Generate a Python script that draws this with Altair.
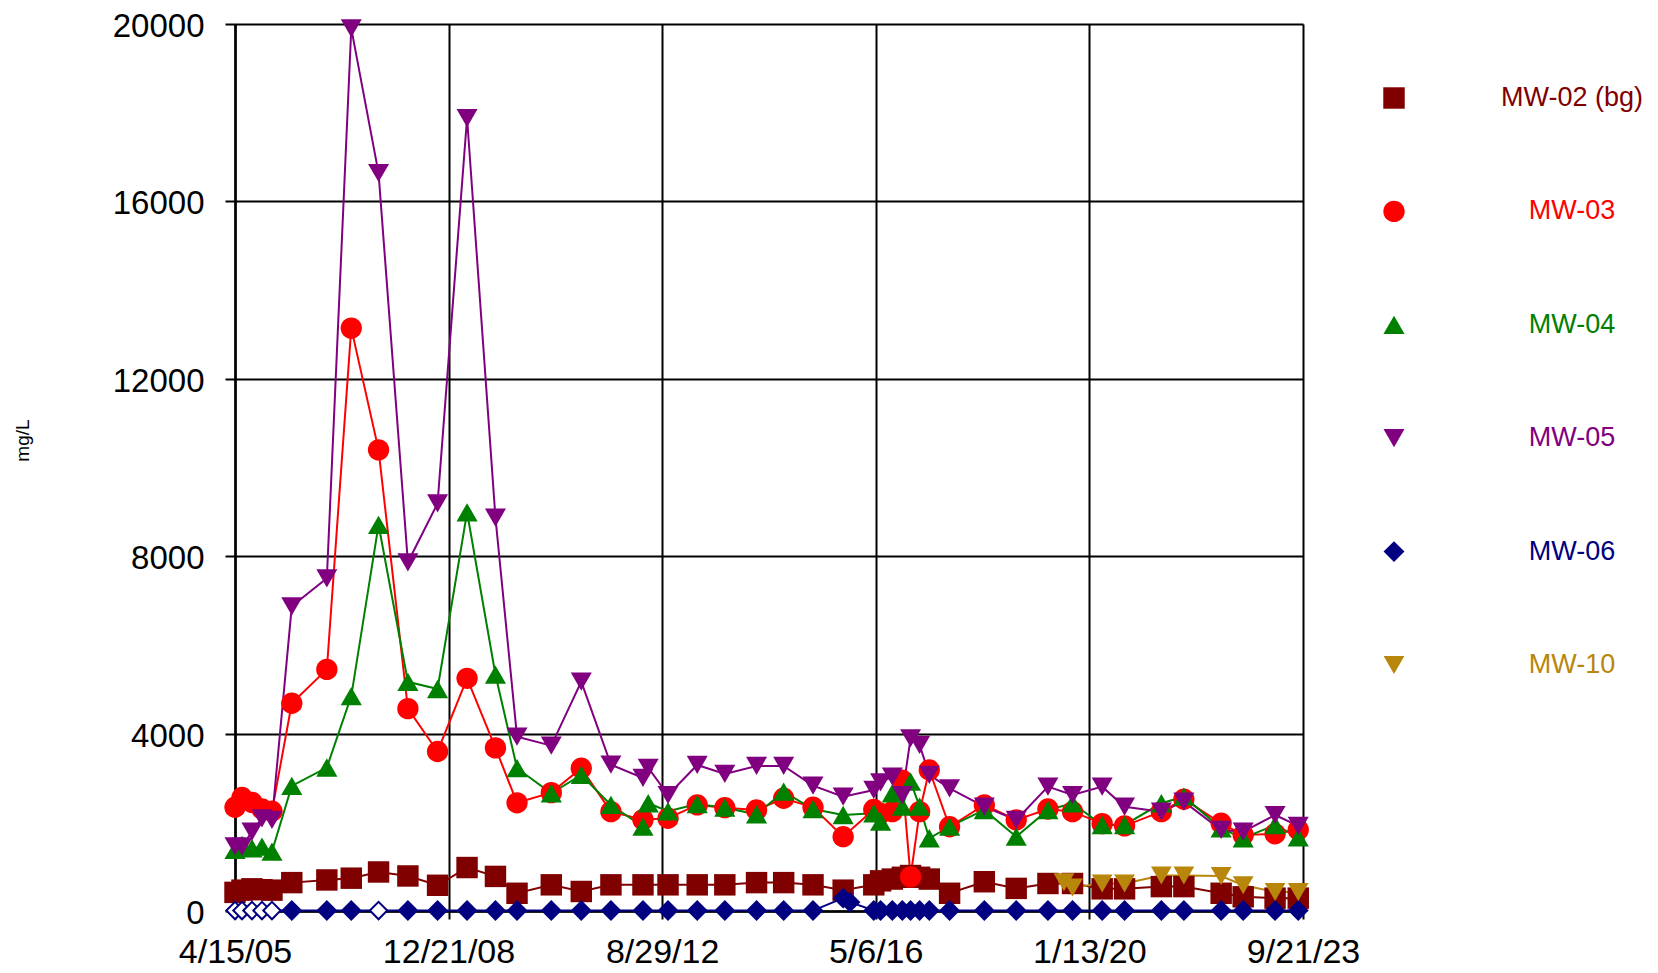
import altair as alt
import pandas as pd

# ---------------- data ----------------
DATES = ["2005-04-15", "2005-05-29", "2005-07-31", "2005-10-02", "2005-12-04",
         "2006-04-08", "2006-11-15", "2007-04-18", "2007-10-07", "2008-04-09",
         "2008-10-13", "2009-04-17", "2009-10-13", "2010-02-26", "2010-09-30",
         "2011-04-07", "2011-10-11", "2012-04-30", "2012-10-05", "2013-04-07",
         "2013-09-28", "2014-04-16", "2014-10-04", "2015-04-07", "2015-10-14",
         "2016-04-24", "2016-06-06", "2016-08-19", "2016-10-21", "2016-12-12",
         "2017-02-07", "2017-04-09", "2017-08-15", "2018-03-22", "2018-10-09",
         "2019-04-27", "2019-09-29", "2020-04-03", "2020-08-22", "2021-04-11",
         "2021-08-31", "2022-04-23", "2022-09-09", "2023-03-29", "2023-08-22"]

MW02 = [420, 470, 500, 480, 470, 640, 700, 740, 880, 790, 580, 980, 780, 400, 590,
        440, 590, 590, 590, 590, 590, 640, 640, 590, 470, 590, 680, 720, 760, 800,
        760, 720, 400, 660, 510, 620, 620, 500, 500, 550, 550, 400, 320, 290, 290]
MW03 = [2340, 2560, 2450, 2300, 2250, 4684, 5448, 13143, 10398, 4563, 3597, 5247, 3678, 2440, 2669,
        3219, 2240, 2060, 2091, 2391, 2330, 2278, 2542, 2339, 1676, 2290, 2200, 2240, 2950, 770,
        2240, 3180, 1900, 2390, 2053, 2300, 2240, 1970, 1920, 2240, 2520, 1978, 1714, 1740, 1830]
MW04 = [1380, 1490, 1414, 1450, 1340, 2820, 3235, 4845, 8708, 5167, 5006, 8990, 5328, 3220, 2655,
        3068, 2391, 1902, 2250, 2410, 2330, 2180, 2690, 2300, 2165, 2204, 2014, 2655, 2352, 2917,
        2352, 1640, 1902, 2278, 1676, 2278, 2429, 1940, 1940, 2429, 2578, 1865, 1640, 1940, 1660]
MW04_EXTRA_DATES = ["2012-06-02"]
MW04_EXTRA = [2430]
MW05 = [1460, 1450, 1790, 2090, 2053, 6870, 7500, 19900, 16640, 7863, 9191, 17880, 8869, 3930, 3729,
        5172, 3300, 3000, 2616, 3293, 3090, 3271, 3271, 2826, 2578, 2729, 2900, 3030, 2616, 3895,
        3744, 3068, 2767, 2352, 2053, 2804, 2616, 2804, 2352, 2240, 2465, 1827, 1789, 2165, 1920]
MW05_EXTRA_DATES = ["2012-06-02"]
MW05_EXTRA = [3230]
MW06 = [10, 10, 10, 10, 10, 10, 10, 10, 10, 10, 10, 10, 10, 10, 10,
        10, 10, 10, 10, 10, 10, 10, 10, 10, 290, 10, 10, 10, 10, 10,
        10, 10, 10, 10, 10, 10, 10, 10, 10, 10, 10, 10, 10, 10, 10]
MW06_ND = [True, True, True, True, True, False, False, False, True] + [False] * 36
MW06_EXTRA_DATES = ["2015-11-26"]
MW06_EXTRA = [200]
MW10_DATES = ["2019-08-06"] + DATES[36:]
MW10 = [650, 530, 620, 620, 800, 800, 790, 580, 430, 430]

SERIES = ["MW-02 (bg)", "MW-03", "MW-04", "MW-05", "MW-06", "MW-10"]

TICK_DATES = [(2005, 4, 15), (2008, 12, 21), (2012, 8, 29), (2016, 5, 6), (2020, 1, 13), (2023, 9, 21)]
Y_TICKS = [0, 4000, 8000, 12000, 16000, 20000]

# ---------------- styles ----------------
COLORS = ["#800000", "#FF0000", "#008000", "#800080", "#000080", "#B8860B"]
SHAPES = ["square", "circle", "triangle-up", "triangle-down", "diamond", "triangle-down"]
SIZES = [460, 430, 520, 520, 600, 520]
FONT = "Liberation Sans, Arial, sans-serif"

# ---------------- table ----------------
rows = []


def add(name, dates, vals, nd=None):
    for i, (d, v) in enumerate(zip(dates, vals)):
        rows.append({"well": name, "date": d, "value": v,
                     "nd": bool(nd[i]) if nd is not None else False})


add("MW-02 (bg)", DATES, MW02)
add("MW-03", DATES, MW03)
add("MW-04", DATES + MW04_EXTRA_DATES, MW04 + MW04_EXTRA)
add("MW-05", DATES + MW05_EXTRA_DATES, MW05 + MW05_EXTRA)
add("MW-06", DATES + MW06_EXTRA_DATES, MW06 + MW06_EXTRA, MW06_ND + [False])
add("MW-10", MW10_DATES, MW10)
df = pd.DataFrame(rows)
df["order"] = df["well"].map({s: i for i, s in enumerate(SERIES)})
df = df.sort_values(["order", "date"]).reset_index(drop=True)

legend_df = pd.DataFrame({"well": SERIES})

# ---------------- encodings ----------------
xdom = [alt.DateTime(year=TICK_DATES[0][0], month=TICK_DATES[0][1], date=TICK_DATES[0][2], utc=True),
        alt.DateTime(year=TICK_DATES[-1][0], month=TICK_DATES[-1][1], date=TICK_DATES[-1][2], utc=True)]
xvals = [alt.DateTime(year=y, month=m, date=d, utc=True) for (y, m, d) in TICK_DATES]

x_enc = alt.X("date:T",
              scale=alt.Scale(type="utc", domain=xdom, nice=False),
              axis=alt.Axis(values=xvals, labelExpr="utcFormat(datum.value, '%-m/%-d/%y')",
                            title=None,
                            labelFont=FONT, labelFontSize=34, labelColor="black",
                            labelBaseline="alphabetic", labelPadding=43,
                            labelFlush=False, labelOverlap=False,
                            tickSize=8, tickWidth=2, tickColor="black",
                            domainColor="black", domainWidth=2.5,
                            grid=True, gridColor="black", gridWidth=2))
y_enc = alt.Y("value:Q",
              scale=alt.Scale(domain=[0, 20000], nice=False, zero=True),
              axis=alt.Axis(values=Y_TICKS, format="d", title="mg/L",
                            titleFont=FONT, titleFontSize=19, titleFontWeight="normal",
                            titleColor="black", titleAngle=270, titleX=-213, titleY=416,
                            titleAlign="center", titleBaseline="middle",
                            labelFont=FONT, labelFontSize=33, labelColor="black",
                            labelPadding=21, labelFlush=False, labelOffset=2.5,
                            tickSize=10, tickWidth=2, tickColor="black",
                            domainColor="black", domainWidth=2.5,
                            grid=True, gridColor="black", gridWidth=2))

color_scale = alt.Scale(domain=SERIES, range=COLORS)
shape_scale = alt.Scale(domain=SERIES, range=SHAPES)
size_scale = alt.Scale(domain=SERIES, range=SIZES)

lines = alt.Chart(df).mark_line(strokeWidth=2).encode(
    x=x_enc, y=y_enc,
    color=alt.Color("well:N", scale=color_scale, legend=None),
    order="date:T",
)

points = alt.Chart(df).transform_filter("!datum.nd").mark_point(
    filled=True, opacity=1
).encode(
    x=x_enc, y=y_enc,
    color=alt.Color("well:N", scale=color_scale, legend=None),
    shape=alt.Shape("well:N", scale=shape_scale, legend=None),
    size=alt.Size("well:N", scale=size_scale, legend=None),
)

hollow = alt.Chart(df).transform_filter("datum.nd").mark_point(
    filled=False, size=300, opacity=1, strokeWidth=2, color="#000080", shape="diamond", fill="white"
).encode(x=x_enc, y=y_enc)

main = alt.layer(lines, points, hollow)

# legend drawn as its own small layer: one row per series on a point scale
leg_y = alt.Y("well:N", axis=None,
              scale=alt.Scale(type="point", domain=SERIES, range=[74, 641], padding=0))

leg_pts = alt.Chart(legend_df).mark_point(filled=True, opacity=1).encode(
    x=alt.value(1159), y=leg_y,
    color=alt.Color("well:N", scale=color_scale, legend=None),
    shape=alt.Shape("well:N", scale=shape_scale, legend=None),
    size=alt.Size("well:N", scale=size_scale, legend=None),
)
leg_txt = alt.Chart(legend_df).mark_text(
    align="center", baseline="middle", font=FONT, fontSize=27
).encode(
    x=alt.value(1337), y=leg_y,
    text="well:N",
    color=alt.Color("well:N", scale=color_scale, legend=None),
)
legend = alt.layer(leg_pts, leg_txt)

chart = alt.layer(main, legend).resolve_scale(y="independent").properties(
    width=1068, height=887,
    autosize=alt.AutoSizeParams(type="none"),
    padding={"left": 227, "top": 16, "right": 345, "bottom": 58},
).configure(background="white", view=alt.ViewConfig(strokeWidth=0))

chart.save("out.html", embed_options={"renderer": "svg", "actions": False})
